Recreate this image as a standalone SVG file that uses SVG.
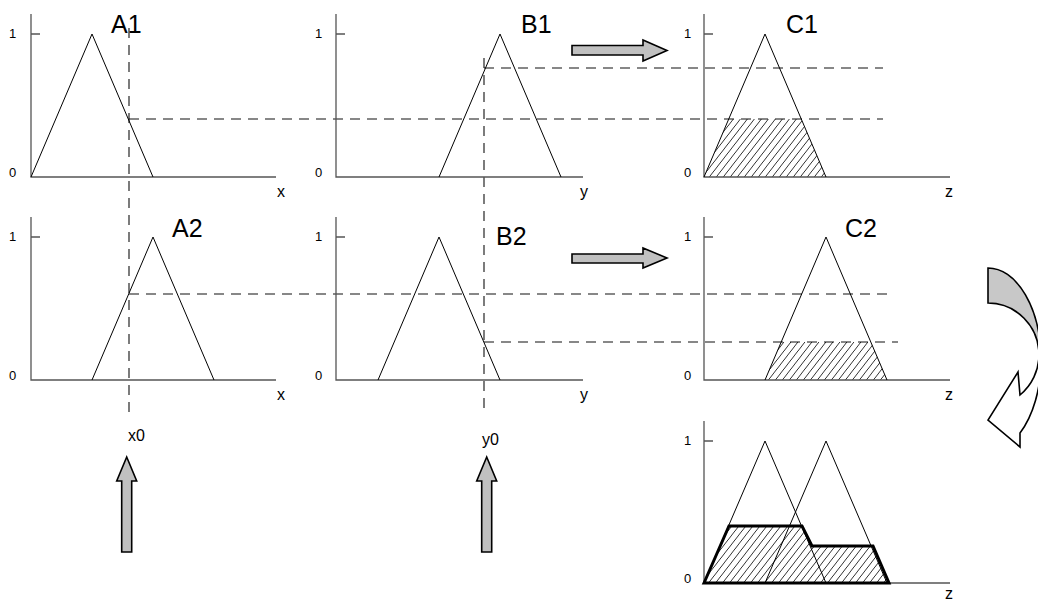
<svg xmlns="http://www.w3.org/2000/svg" width="1038" height="601" viewBox="0 0 1038 601">
<style>
.axis{stroke:#555;stroke-width:1.3;fill:none}
.tri{stroke:#000;stroke-width:1;fill:none}
.dash{stroke:#111;stroke-width:1.1;stroke-dasharray:10 7;fill:none}
.num{font-family:"Liberation Sans",Arial,sans-serif;font-size:13px;fill:#000}
.lab{font-family:"Liberation Sans",Arial,sans-serif;font-size:16px;fill:#000}
.title{font-family:"Liberation Sans",Arial,sans-serif;font-size:25px;fill:#000}
.hatch{fill:url(#hatch);stroke:none}
.big{fill:#c0c0c0;stroke:#000;stroke-width:1.6;stroke-linejoin:miter}
</style>
<defs>
<pattern id="hatch" patternUnits="userSpaceOnUse" width="7" height="9">
<path d="M-1,10.3 L7.9,-1.3 M6,10.3 L14.9,-1.3 M-8,10.3 L0.9,-1.3" stroke="#000" stroke-width="0.8" fill="none"/>
</pattern>
</defs>
<rect width="1038" height="601" fill="#fff"/>

<g id="connectors">
<path class="dash" d="M129,28 V414"/>
<path class="dash" d="M484,58 V414"/>
<path class="dash" d="M129,119 H883"/>
<path class="dash" d="M484,68 H883"/>
<path class="dash" d="M129,294 H894"/>
<path class="dash" d="M484,342 H898"/>
<path class="big" d="M572,45.5 L643,45.5 L643,40 L667,50.5 L643,61 L643,55 L572,55 Z"/>
<path class="big" d="M572,254 L643,254 L643,248 L667,258 L643,268 L643,263 L572,263 Z"/>
<path class="big" d="M121.7,552 L121.7,481 L116.7,481 L126.7,457 L136.7,481 L131.7,481 L131.7,552 Z"/>
<path class="big" d="M481.7,552 L481.7,481 L476.7,481 L486.7,457 L496.7,481 L491.7,481 L491.7,552 Z"/>
<g id="cycle">
<path fill="#c8c8c8" stroke="#000" stroke-width="1.6" d="M988,268 A53,92 0 0 1 1041,360 L1039,355 A51,52 0 0 0 988,303 Z"/>
<path fill="#fff" stroke="#000" stroke-width="1.6" d="M1041,360 A53,92 0 0 1 1020,433 L1020,447 L988,420 L1018,372 L1020,395 A51,52 0 0 0 1039,355"/>
</g>
</g>

<g id="A1">
<path class="axis" d="M31,14 V177 H276 M31,34 H40"/>
<path class="tri" d="M31,177 L92,34 L153,177"/>
<text class="num" x="9" y="38">1</text>
<text class="num" x="9" y="177">0</text>
<text class="lab" x="277" y="197">x</text>
<text class="title" x="111" y="33">A1</text>
</g>

<g id="B1">
<path class="axis" d="M336,14 V177 H583 M336,34 H345"/>
<path class="tri" d="M439,177 L500,34 L561,177"/>
<text class="num" x="315" y="38">1</text>
<text class="num" x="315" y="177">0</text>
<text class="lab" x="580" y="197">y</text>
<text class="title" x="521" y="33">B1</text>
</g>

<g id="C1">
<path class="hatch" d="M704,177 L729,119 L801,119 L826,177 Z"/>
<path class="axis" d="M704,14 V177 H950 M704,34 H713"/>
<path class="tri" d="M704,177 L765,34 L826,177"/>
<text class="num" x="684" y="38">1</text>
<text class="num" x="684" y="177">0</text>
<text class="lab" x="945" y="197">z</text>
<text class="title" x="786" y="33">C1</text>
</g>

<g id="A2">
<path class="axis" d="M31,217 V380 H276 M31,237 H40"/>
<path class="tri" d="M92,380 L153,237 L214,380"/>
<text class="num" x="9" y="241">1</text>
<text class="num" x="9" y="380">0</text>
<text class="lab" x="277" y="400">x</text>
<text class="title" x="172" y="237">A2</text>
</g>

<g id="B2">
<path class="axis" d="M336,217 V380 H583 M336,237 H345"/>
<path class="tri" d="M378,380 L439,237 L500,380"/>
<text class="num" x="315" y="241">1</text>
<text class="num" x="315" y="380">0</text>
<text class="lab" x="580" y="400">y</text>
<text class="title" x="496" y="245">B2</text>
</g>

<g id="C2">
<path class="hatch" d="M765,380 L781,342 L871,342 L887,380 Z"/>
<path class="axis" d="M704,217 V380 H950 M704,237 H713"/>
<path class="tri" d="M765,380 L826,237 L887,380"/>
<text class="num" x="684" y="241">1</text>
<text class="num" x="684" y="380">0</text>
<text class="lab" x="945" y="400">z</text>
<text class="title" x="845" y="237">C2</text>
</g>

<g id="C">
<path class="hatch" d="M704,583 L729,526 L802,526 L812,546 L873,546 L889,583 Z"/>
<path class="axis" d="M704,421 V583 H950 M704,441 H713"/>
<path class="tri" d="M704,583 L765,441 L826,583 M765,583 L826,441 L887,583"/>
<path d="M704,583 L729,526 L802,526 L812,546 L873,546 L889,583 Z" fill="none" stroke="#000" stroke-width="3" stroke-linejoin="miter"/>
<text class="num" x="684" y="445">1</text>
<text class="num" x="684" y="583">0</text>
<text class="lab" x="945" y="599">z</text>
</g>

<g id="inputs">
<text class="lab" x="128" y="441">x0</text>
<text class="lab" x="482" y="445">y0</text>
</g>
</svg>
